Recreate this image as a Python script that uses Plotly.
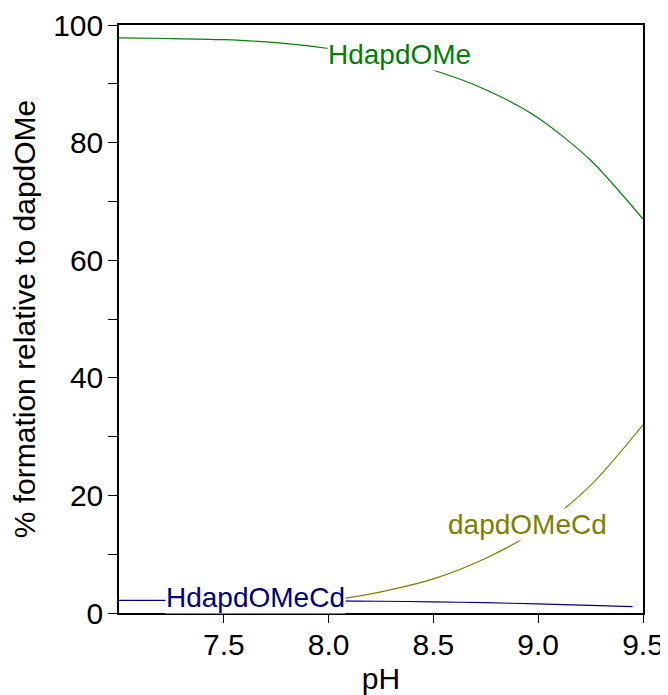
import plotly.graph_objects as go

# pH values and speciation (% formation relative to dapdOMe)
ph_green = [7.0, 7.25, 7.5, 7.75, 8.0, 8.25, 8.5, 8.75, 9.0, 9.25, 9.5]
hdapdome = [97.8, 97.7, 97.5, 97.0, 96.0, 94.5, 92.3, 89.0, 84.2, 77.0, 67.0]

ph_olive = [7.5, 7.75, 8.0, 8.25, 8.5, 8.75, 9.0, 9.25, 9.5]
dapdomecd = [0.6, 1.1, 2.1, 3.6, 5.8, 9.3, 14.3, 21.7, 32.0]

ph_blue = [7.0, 7.25, 7.5, 7.75, 8.0, 8.25, 8.5, 8.75, 9.0, 9.25, 9.45]
hdapdomecd = [2.15, 2.15, 2.12, 2.1, 2.05, 2.0, 1.9, 1.75, 1.55, 1.3, 1.07]

x_ticks = [7.5, 8.0, 8.5, 9.0, 9.5]
x_tick_labels = ["7.5", "8.0", "8.5", "9.0", "9.5"]
y_ticks = [0, 10, 20, 30, 40, 50, 60, 70, 80, 90, 100]
y_tick_labels = ["0", "", "20", "", "40", "", "60", "", "80", "", "100"]

FONT = "Liberation Sans, Arial, sans-serif"
GREEN = "#008000"
OLIVE = "#808000"
NAVY = "#000080"

fig = go.Figure()
fig.add_trace(go.Scatter(x=ph_green, y=hdapdome, mode="lines", line=dict(color=GREEN, width=1.2, shape="spline", smoothing=0.8)))
fig.add_trace(go.Scatter(x=ph_olive, y=dapdomecd, mode="lines", line=dict(color=OLIVE, width=1.2, shape="spline", smoothing=0.8)))
fig.add_trace(go.Scatter(x=ph_blue, y=hdapdomecd, mode="lines", line=dict(color=NAVY, width=1.2, shape="spline", smoothing=0.8)))

labels = [("HdapdOMe", 8.34, 95.0, GREEN), ("dapdOMeCd", 8.951, 15.1, OLIVE), ("HdapdOMeCd", 7.65, 2.7, NAVY)]
for txt, xx, yy, col in labels:
    fig.add_annotation(x=xx, y=yy, text=txt, showarrow=False, xanchor="center", yanchor="middle",
                       font=dict(family=FONT, size=28, color=col), bgcolor="white", borderpad=0)

fig.update_layout(
    width=660, height=687,
    margin=dict(l=111, r=25, t=17, b=82),
    paper_bgcolor="white", plot_bgcolor="white",
    showlegend=False,
    font=dict(family=FONT, size=30, color="black"),
)
fig.update_xaxes(range=[7.0, 9.5], tickvals=x_ticks, ticktext=x_tick_labels,
                 ticks="outside", ticklen=8, tickwidth=1.2, tickcolor="black",
                 ticklabelstandoff=-4, automargin=False, ticklabeloverflow="allow",
                 showline=True, linecolor="black", linewidth=1.5, mirror=True,
                 showgrid=False, zeroline=False,
                 title=dict(text="pH", font=dict(size=30), standoff=11))
fig.update_yaxes(range=[0, 100], tickvals=y_ticks, ticktext=y_tick_labels,
                 ticks="outside", ticklen=9, tickwidth=1.2, tickcolor="black",
                 ticklabelstandoff=-1, automargin=False, ticklabeloverflow="allow",
                 showline=True, linecolor="black", linewidth=1.5, mirror=True,
                 showgrid=False, zeroline=False,
                 title=dict(text="% formation relative to dapdOMe", font=dict(size=30), standoff=17))

fig.write_html("out.html")
